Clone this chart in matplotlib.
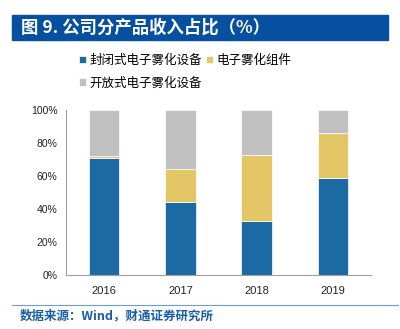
import matplotlib
matplotlib.use("Agg")
import matplotlib.pyplot as plt
from matplotlib.patches import Rectangle
from matplotlib.ticker import PercentFormatter

plt.rcParams['font.family'] = ['Noto Sans CJK SC', 'DejaVu Sans']

# data (share of revenue, %)
years = ['2016', '2017', '2018', '2019']
closed = [71.0, 44.0, 33.0, 59.0]
component = [1.3, 20.0, 39.5, 27.0]
opened = [27.7, 36.0, 27.5, 14.0]
names = ['封闭式电子雾化设备', '电子雾化组件', '开放式电子雾化设备']
colors = ['#1c6aa4', '#e3c665', '#c0c0c0']

W, H = 400, 329
fig = plt.figure(figsize=(W / 100, H / 100), dpi=100)

# title banner
fig.patches.append(Rectangle((12 / W, 1 - 40 / H), 376 / W, 25 / H,
                             transform=fig.transFigure, color='#0750a0', zorder=0))
fig.text(21 / W, 1 - 27.5 / H, '图 9. 公司分产品收入占比（%）', color='white',
         fontsize=12.5, fontweight='bold', va='center', ha='left')

ax = fig.add_axes([66 / W, 1 - 275 / H, 305 / W, 165 / H])
x = range(len(years))
bottom2 = [a + b for a, b in zip(closed, component)]
b1 = ax.bar(x, closed, width=0.4, color=colors[0], edgecolor='white', linewidth=0.5)
b2 = ax.bar(x, component, width=0.4, bottom=closed, color=colors[1], edgecolor='white', linewidth=0.5)
b3 = ax.bar(x, opened, width=0.4, bottom=bottom2, color=colors[2], edgecolor='white', linewidth=0.5)

ax.set_xlim(-0.5, 3.5)
ax.set_ylim(0, 100)
ax.set_yticks([0, 20, 40, 60, 80, 100])
ax.yaxis.set_major_formatter(PercentFormatter(decimals=0))
ax.set_xticks(list(x))
ax.set_xticklabels(years)
for s in ['top', 'right']:
    ax.spines[s].set_visible(False)
for s in ['left', 'bottom']:
    ax.spines[s].set_color('#a0a0a0')
    ax.spines[s].set_linewidth(0.8)
ax.tick_params(axis='y', length=0, labelsize=7.5, pad=6, colors='#222222')
ax.tick_params(axis='x', length=0, labelsize=8, pad=8, colors='#222222')
for lbl in ax.get_yticklabels() + ax.get_xticklabels():
    lbl.set_family(['Liberation Sans', 'DejaVu Sans'])

fig.legend([b1, b3, b2], [names[0], names[2], names[1]], ncol=2,
           loc='upper left', bbox_to_anchor=(79 / W, 1 - 54 / H),
           frameon=False, fontsize=9, handlelength=0.55, handleheight=0.55,
           handletextpad=0.3, columnspacing=0.3, labelspacing=0.75,
           borderpad=0, borderaxespad=0)

# source line
fig.add_artist(plt.Line2D([12 / W, 398 / W], [1 - 305 / H, 1 - 305 / H],
                          transform=fig.transFigure, color='#6a9fd0', linewidth=0.8))
fig.text(20 / W, 1 - 316 / H, '数据来源：Wind，财通证券研究所', color='#1a5ea8',
         fontsize=9, fontweight='bold', va='center', ha='left')

fig.savefig('out.png', dpi=100)
